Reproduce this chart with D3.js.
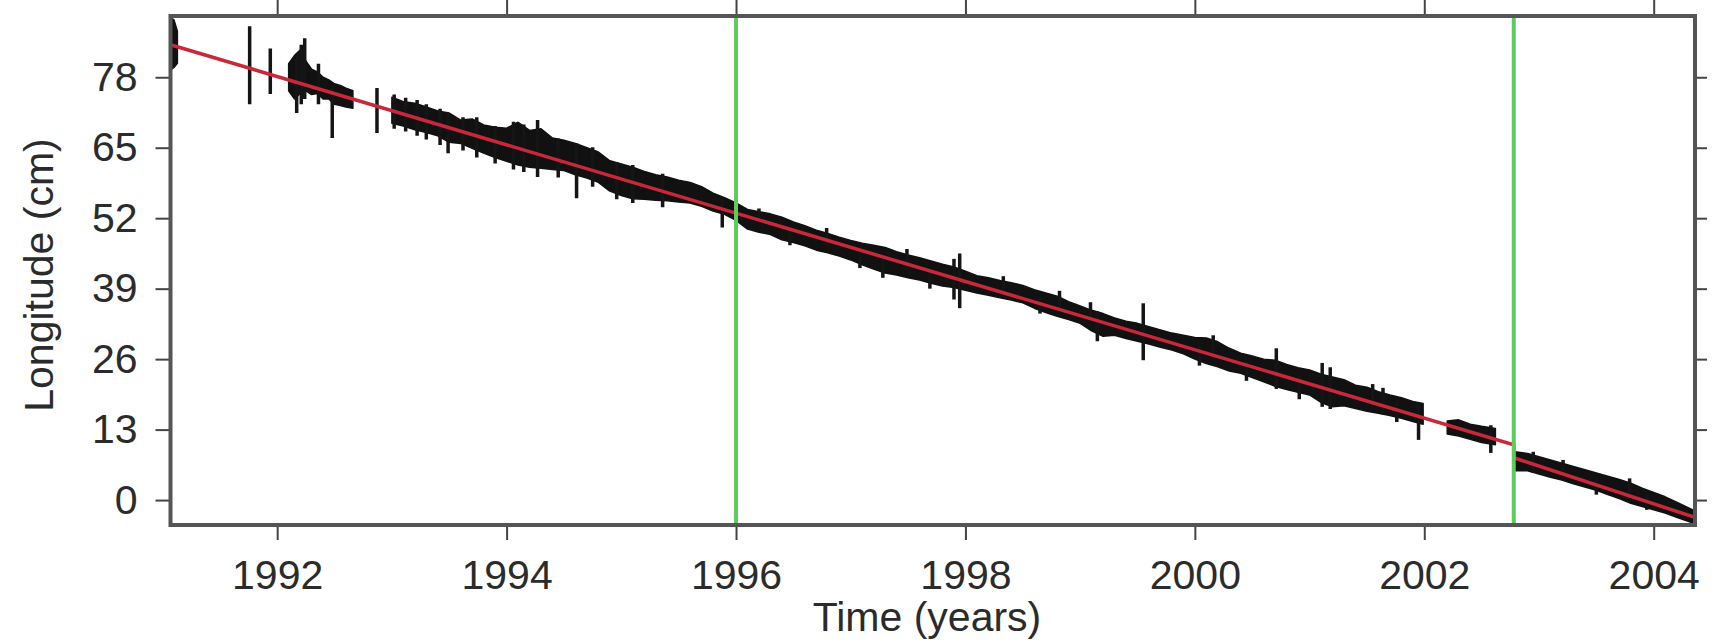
<!DOCTYPE html>
<html>
<head>
<meta charset="utf-8">
<script src="https://cdn.jsdelivr.net/npm/d3@7"></script>
<style>
  body { margin: 0; background: #fff; }
  text { font-family: "Liberation Sans", Arial, sans-serif; fill: #2b2b2b; }
</style>
</head>
<body>
<script>
var obsTime = [
  1991.07, 1991.10, 1991.13, null,
  1992.10, 1992.15, 1992.20, 1992.25, 1992.30, 1992.35, 1992.40, 1992.45, 1992.50, 1992.55, 1992.60, 1992.66, null,
  1993.0, 1993.1, 1993.2, 1993.3, 1993.4, 1993.5, 1993.6, 1993.7, 1993.8, 1993.9,
  1994.0, 1994.1, 1994.2, 1994.3, 1994.4, 1994.5, 1994.6, 1994.7, 1994.8, 1994.9,
  1995.0, 1995.1, 1995.2, 1995.3, 1995.4, 1995.5, 1995.6, 1995.7, 1995.8, 1995.9,
  1996.0, 1996.1, 1996.2, 1996.3, 1996.4, 1996.5, 1996.6, 1996.7, 1996.8, 1996.9,
  1997.0, 1997.1, 1997.2, 1997.3, 1997.4, 1997.5, 1997.6, 1997.7, 1997.8, 1997.9,
  1998.0, 1998.1, 1998.2, 1998.3, 1998.4, 1998.5, 1998.6, 1998.7, 1998.8, 1998.9,
  1999.0, 1999.1, 1999.2, 1999.3, 1999.4, 1999.5, 1999.6, 1999.7, 1999.8, 1999.9,
  2000.0, 2000.1, 2000.2, 2000.3, 2000.4, 2000.5, 2000.6, 2000.7, 2000.8, 2000.9,
  2001.0, 2001.1, 2001.2, 2001.3, 2001.4, 2001.5, 2001.6, 2001.7, 2001.8, 2001.9, 2001.99, null,
  2002.20, 2002.30, 2002.40, 2002.50, 2002.62, null,
  2002.79, 2002.90, 2003.0, 2003.1, 2003.2, 2003.3, 2003.4, 2003.5, 2003.6, 2003.7, 2003.8, 2003.9,
  2004.0, 2004.1, 2004.2, 2004.3, 2004.36
];
var obsHigh = [
  89.0, 88.6, 86.5, null,
  80.5, 82.0, 83.0, 81.0, 79.5, 79.0, 78.0, 77.5, 76.8, 76.5, 76.0, 75.5, null,
  74.3, 73.5, 73.2, 72.5, 71.8, 71.4, 70.1, 70.3, 69.2, 68.8,
  68.6, 69.7, 68.2, 68.5, 66.8, 66.4, 65.8, 65.0, 64.2, 62.6,
  62.0, 61.4, 60.6, 60.0, 59.6, 59.0, 58.6, 57.8, 56.6, 55.8,
  54.8, 53.6, 53.2, 52.8, 52.2, 51.3, 50.6, 49.8, 49.2, 48.5,
  47.9, 47.4, 47.0, 46.6, 45.8, 45.2, 44.7, 44.1, 43.5, 43.0,
  42.2, 41.4, 41.0, 40.5, 40.1, 39.6, 38.8, 38.2, 37.6, 36.6,
  35.8, 35.0, 34.4, 33.6, 33.0, 32.6, 32.0, 31.4, 30.8, 30.4,
  30.0, 29.9, 29.2, 28.0, 27.1, 26.6, 26.0, 25.8, 25.0, 24.4,
  24.0, 23.2, 22.7, 22.2, 21.2, 20.8, 20.0, 19.4, 18.9, 18.2, 17.8, null,
  14.6, 14.8, 14.0, 13.6, 13.2, null,
  8.9, 8.6, 8.0, 7.4, 6.8, 6.2, 5.6, 5.0, 4.4, 3.8, 3.1, 2.2,
  1.4, 0.6, -0.4, -1.4, -2.0
];
var obsLow = [
  79.3, 79.8, 80.6, null,
  75.5, 74.0, 75.0, 75.5, 74.8, 75.0, 74.0, 74.0, 73.0, 72.8, 72.5, 72.3, null,
  69.5, 69.0, 68.3, 67.8, 67.2, 66.0, 65.8, 64.9, 64.0, 63.2,
  62.5, 61.8, 61.4, 61.2, 61.0, 60.8, 60.0, 59.4, 58.6, 57.0,
  56.2, 55.6, 55.5, 55.3, 55.2, 55.0, 54.8, 54.2, 53.3, 52.7,
  51.6, 50.0, 49.4, 49.0, 48.0, 47.5, 46.9, 46.1, 45.6, 45.0,
  44.3, 43.4, 42.6, 41.9, 41.5, 41.0, 40.6, 40.0, 39.5, 39.2,
  38.7, 38.2, 37.8, 37.3, 36.9, 36.4, 35.4, 34.6, 33.9, 33.3,
  32.6, 31.2, 30.2, 30.4, 29.8, 29.3, 28.8, 28.2, 27.7, 27.0,
  26.0, 25.2, 24.6, 23.8, 23.4, 22.6, 21.8, 21.0, 20.4, 19.9,
  19.4, 18.0, 17.2, 17.4, 16.9, 16.4, 16.0, 15.6, 15.1, 14.5, 14.0, null,
  12.2, 11.8, 11.2, 10.6, 10.2, null,
  5.4, 5.4, 4.8, 4.2, 3.7, 3.0, 2.4, 1.8, 1.0, 0.3, -0.6, -1.2,
  -1.8, -2.4, -3.2, -3.9, -4.4
];

// isolated outliers and short bursts poking out of the band
var spikeTime = [1991.76, 1991.94, 1992.17, 1992.21, 1992.24, 1992.36, 1992.48, 1992.87,
  1993.02, 1993.12, 1993.22, 1993.30, 1993.42, 1993.49, 1993.62, 1993.74, 1993.90,
  1994.06, 1994.15, 1994.27, 1994.45, 1994.61, 1994.75, 1994.96, 1995.10, 1995.36, 1995.88,
  1996.20, 1996.47, 1996.79, 1997.08, 1997.28, 1997.49, 1997.69, 1997.90, 1997.95,
  1998.33, 1998.65, 1998.82, 1999.09, 1999.15, 1999.55, 2000.04, 2000.16, 2000.45,
  2000.71, 2000.91, 2001.11, 2001.18, 2001.55, 2001.64, 2001.76, 2001.95,
  2002.58, 2002.95, 2003.21, 2003.50, 2003.79, 2003.94];
var spikeLow = [73.0, 74.9, 71.4, 73.0, 74.0, 73.0, 66.8, 67.7,
  68.5, 68.0, 67.2, 66.5, 65.5, 64.0, 64.5, 63.2, 62.1,
  61.0, 60.5, 59.6, 59.5, 55.7, 57.8, 55.5, 54.8, 54.0, 50.3,
  51.0, 47.0, 47.0, 42.8, 41.0, 42.5, 39.0, 37.0, 35.4,
  38.0, 34.4, 35.0, 33.5, 29.3, 25.8, 24.8, 26.0, 22.0,
  20.5, 18.6, 17.2, 16.8, 18.0, 15.8, 14.4, 11.1,
  8.7, 5.0, 4.5, 1.0, 0.5, -1.8];
var spikeHigh = [87.4, 83.3, 82.0, 84.0, 85.2, 80.5, 76.0, 76.0,
  74.8, 74.2, 73.8, 73.0, 72.2, 71.4, 70.6, 70.6, 69.0,
  69.8, 69.3, 70.1, 66.7, 65.8, 65.1, 62.3, 61.8, 60.2, 55.8,
  53.8, 50.5, 50.2, 46.0, 44.5, 46.3, 42.5, 44.5, 45.5,
  41.3, 37.5, 38.6, 36.5, 34.8, 36.3, 28.5, 30.4, 25.5,
  28.0, 23.0, 25.3, 24.5, 21.4, 20.7, 18.0, 17.9,
  13.8, 8.9, 7.4, 4.0, 4.0, 1.0];

// fitted trend
var trendTime = [1991.07, 2002.78, 2002.78, 2004.36];
var trendValue = [84.0, 10.2, 7.8, -3.2];

var eventTime = [1996.0, 2002.78];

var yTicks = [0, 13, 26, 39, 52, 65, 78];
var xTicks = [1992, 1994, 1996, 1998, 2000, 2002, 2004];

var width = 1718, height = 643;
var plotLeft = 170.5, plotRight = 1695, plotTop = 16, plotBottom = 525;

var x = d3.scaleLinear().domain([1991.07, 2004.36]).range([plotLeft, plotRight]);
var y = d3.scaleLinear().domain([-4.6, 89.3]).range([plotBottom, plotTop]);

var svg = d3.select("body").append("svg")
  .attr("width", width)
  .attr("height", height);

svg.append("clipPath").attr("id", "plot")
  .append("rect")
  .attr("x", plotLeft).attr("y", plotTop)
  .attr("width", plotRight - plotLeft).attr("height", plotBottom - plotTop);

var plot = svg.append("g").attr("clip-path", "url(#plot)");

var obs = obsTime.map(function(t, i) { return {t: t, hi: obsHigh[i], lo: obsLow[i]}; });

var band = d3.area()
  .defined(function(d) { return d.t !== null; })
  .x(function(d) { return x(d.t); })
  .y0(function(d) { return y(d.lo); })
  .y1(function(d) { return y(d.hi); });

plot.append("path")
  .datum(obs)
  .attr("d", band)
  .attr("fill", "#111")
  .attr("stroke", "#111")
  .attr("stroke-width", 1.5)
  .attr("stroke-linejoin", "round");

plot.selectAll("line.spike")
  .data(spikeTime)
  .enter()
  .append("line")
  .attr("class", "spike")
  .attr("x1", function(d) { return x(d); })
  .attr("x2", function(d) { return x(d); })
  .attr("y1", function(d, i) { return y(spikeLow[i]); })
  .attr("y2", function(d, i) { return y(spikeHigh[i]); })
  .attr("stroke", "#151515")
  .attr("stroke-width", 3.5);

var trend = trendTime.map(function(t, i) { return [t, trendValue[i]]; });
plot.append("path")
  .datum(trend)
  .attr("d", d3.line().x(function(d) { return x(d[0]); }).y(function(d) { return y(d[1]); }))
  .attr("fill", "none")
  .attr("stroke", "#c8283a")
  .attr("stroke-width", 3.5);

plot.selectAll("line.event")
  .data(eventTime)
  .enter()
  .append("line")
  .attr("class", "event")
  .attr("x1", function(d) { return x(d); })
  .attr("x2", function(d) { return x(d); })
  .attr("y1", plotTop)
  .attr("y2", plotBottom)
  .attr("stroke", "#5ccc5c")
  .attr("stroke-width", 4);

// axes
function styleAxis(g) {
  g.select(".domain").remove();
  g.selectAll(".tick line").attr("stroke", "#444").attr("stroke-width", 2);
  g.selectAll(".tick text").attr("font-size", 41).attr("fill", "#2b2b2b")
    .attr("font-family", "'Liberation Sans', Arial, sans-serif");
}

svg.append("g")
  .attr("transform", "translate(" + plotLeft + ",0)")
  .call(d3.axisLeft(y).tickValues(yTicks).tickSize(15).tickPadding(18))
  .call(styleAxis);

svg.append("g")
  .attr("transform", "translate(" + plotRight + ",0)")
  .call(d3.axisRight(y).tickValues(yTicks).tickSize(12).tickFormat(""))
  .call(styleAxis);

svg.append("g")
  .attr("transform", "translate(0," + plotBottom + ")")
  .call(d3.axisBottom(x).tickValues(xTicks).tickFormat(d3.format("d")).tickSize(15).tickPadding(20))
  .call(styleAxis);

svg.append("g")
  .attr("transform", "translate(0," + plotTop + ")")
  .call(d3.axisTop(x).tickValues(xTicks).tickSize(16).tickFormat(""))
  .call(styleAxis);

svg.append("rect")
  .attr("x", plotLeft).attr("y", plotTop)
  .attr("width", plotRight - plotLeft).attr("height", plotBottom - plotTop)
  .attr("fill", "none")
  .attr("stroke", "#555")
  .attr("stroke-width", 4);

svg.append("text")
  .attr("x", 927)
  .attr("y", 631)
  .attr("text-anchor", "middle")
  .attr("font-size", 41)
  .text("Time (years)");

svg.append("text")
  .attr("transform", "translate(53,275) rotate(-90)")
  .attr("text-anchor", "middle")
  .attr("font-size", 41)
  .text("Longitude (cm)");
</script>
</body>
</html>
